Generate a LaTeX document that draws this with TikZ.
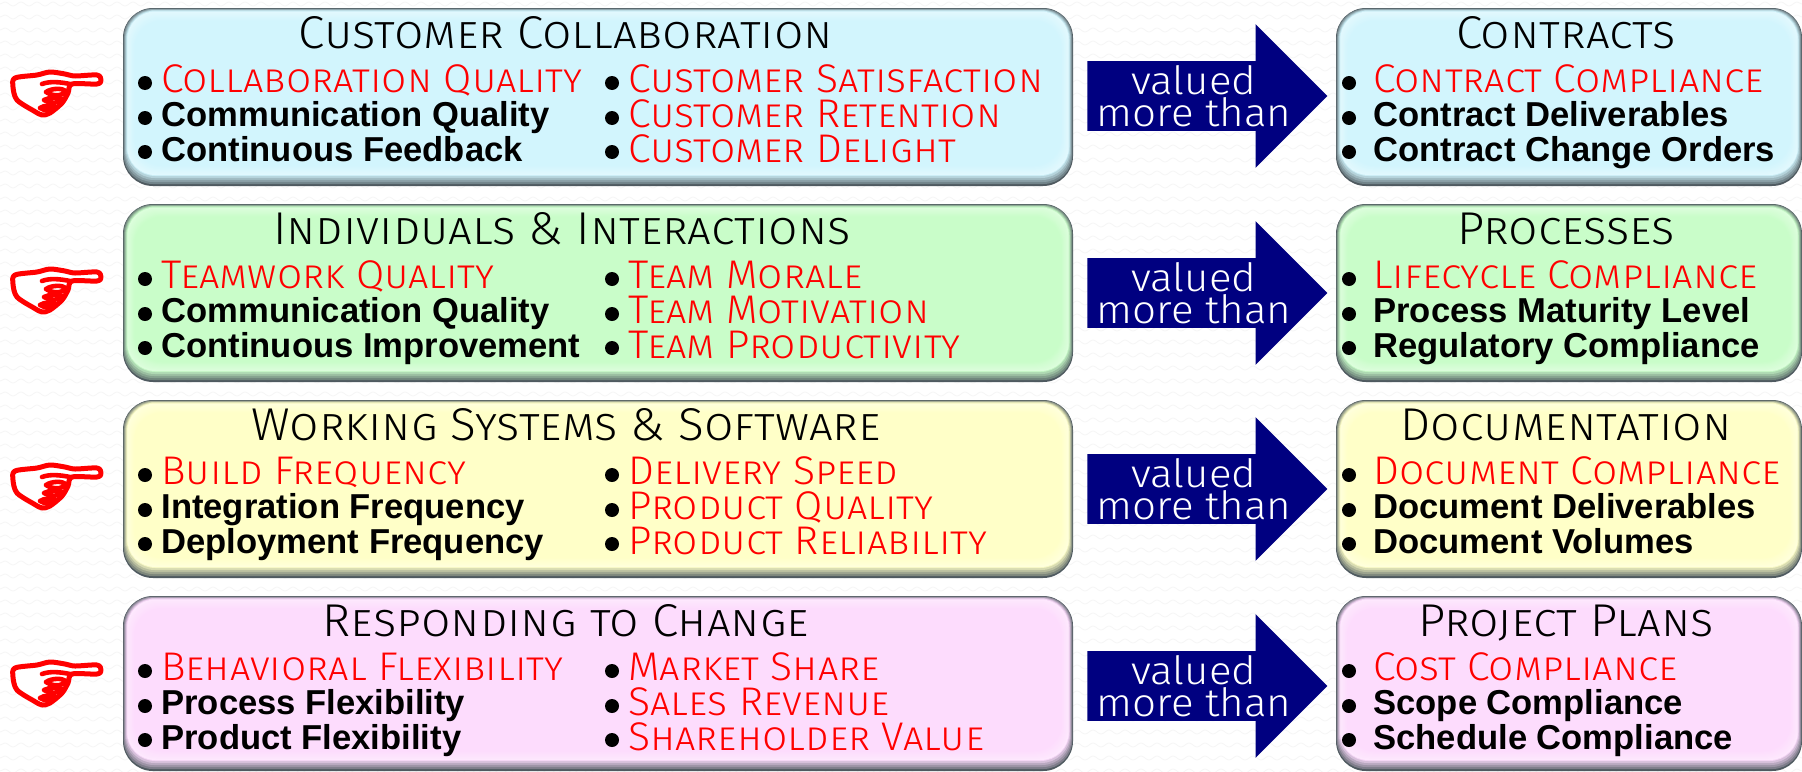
\documentclass[tikz,border=0pt]{standalone}
\usepackage{fontspec}
\usepackage{tikz}
\usetikzlibrary{shapes.arrows, decorations.pathmorphing}
\setmainfont{Liberation Sans}
\newfontfamily\headfont[Letters=SmallCaps, FakeStretch=1.035]{Fira Sans Light}
\newfontfamily\capsfont[Letters=SmallCaps, FakeStretch=1.022]{Fira Sans Light}
\newfontfamily\plainfont[FakeStretch=1.08]{Fira Sans Light}
\definecolor{navyarrow}{HTML}{000080}
\definecolor{bluebox}{HTML}{D2F5FD}
\definecolor{greenbox}{HTML}{C9FDC9}
\definecolor{yellowbox}{HTML}{FFFFC8}
\definecolor{pinkbox}{HTML}{FDDCFD}
\definecolor{edgegray}{HTML}{4F5A60}
\definecolor{wavegray}{HTML}{F6F6F6}
% one bevelled panel: x0, y0, x1, y1, colour
\newcommand{\panel}[5]{
  \fill[edgegray, rounded corners=15pt] (#1,#2) rectangle (#3,#4);
  \foreach \i in {1,...,5}{
    \pgfmathsetmacro{\mixval}{90-17*\i}
    \fill[edgegray!\mixval!#5, rounded corners=14.5pt]
      ({#1+0.7*\i},{#2+0.5*\i}) rectangle ({#3-0.7*\i},{#4-2*\i});
  }
  \foreach \i in {1,...,10}{
    \pgfmathsetmacro{\mixval}{60+4*\i}
    \fill[#5!\mixval!white, rounded corners=14pt]
      ({#1+3.5+0.8*\i},{#2+2.5+1.0*\i}) rectangle ({#3-3.5-0.8*\i},{#4-10-1.0*\i});
  }
}
\begin{document}
\begin{tikzpicture}[
  x=0.5pt, y=-0.5pt,
  head/.style={font=\headfont\fontsize{23}{23}\selectfont, anchor=base, inner sep=0pt},
  redtext/.style={font=\capsfont\fontsize{20}{20}\selectfont, text=red, anchor=base west, inner sep=0pt},
  boldtext/.style={font=\bfseries\fontsize{17.3}{18}\selectfont, anchor=base west, inner sep=0pt},
  bullet/.style={circle, fill=black, inner sep=0pt, minimum size=7pt},
  handline/.style={draw=red, fill=white, line width=2.5pt, line join=round},
  fingerline/.style={draw=red, line width=2.3pt, line cap=round},
  valuedarrow/.style={single arrow, fill=navyarrow, minimum height=120pt, minimum width=71.5pt,
    single arrow head extend=18.5pt, text height=34.5pt, text depth=0pt, text width=0pt, inner sep=0pt, anchor=center},
  valuedtext/.style={font=\plainfont\fontsize{19.5}{16}\selectfont, text=white, align=center, inner sep=0pt}
]
\useasboundingbox (0,0) rectangle (1802,771);
\fill[white] (0,0) rectangle (1802,771);
\foreach \y in {4,17,...,771}
  \draw[wavegray, decorate, decoration={snake, segment length=8pt, amplitude=1pt}] (0,\y) -- (1802,\y);

\panel{123}{8}{1073}{186}{bluebox}
\panel{1336}{8}{1802}{186}{bluebox}
\panel{123}{204}{1073}{382}{greenbox}
\panel{1336}{204}{1802}{382}{greenbox}
\panel{123}{400}{1073}{578}{yellowbox}
\panel{1336}{400}{1802}{578}{yellowbox}
\panel{123}{596}{1073}{771}{pinkbox}
\panel{1336}{596}{1802}{771}{pinkbox}

% arrows and hands
\foreach \y [count=\n] in {96,293,489,686}{
  \node[valuedarrow] (arrow\n) at (1190,\y) {};
  \node[valuedtext] (valued\n) at (1194,\y) {valued\\more than};
  \begin{scope}[shift={(0,\y-96)}]
    \draw[handline] plot[smooth cycle, tension=0.5] coordinates {(101,80) (97,84) (72,84) (68,93) (62,103) (50,113)
      (42,115) (34,111) (17,100) (13,87) (15,78) (37,75) (50,72) (65,74) (75,76) (97,75)};
    \draw[fingerline] (42,84) .. controls (50,81) and (60,82) .. (70,84);
    \draw[fingerline] (46,92) .. controls (52,88) and (62,88) .. (66,91) .. controls (62,97) and (52,96) .. (46,92);
    \draw[fingerline] (44,100) .. controls (50,97) and (58,97) .. (62,99) .. controls (58,104) and (50,104) .. (44,100);
    \draw[fingerline] (40,108) .. controls (45,105) and (50,105) .. (54,107) .. controls (50,111) and (45,111) .. (40,108);
  \end{scope}
}

% bullets
\foreach \y in {0,196,392,588}{
  \foreach \r in {83,118,152}{
    \node[bullet] at (145,\y+\r) {};
    \node[bullet] at (612,\y+\r) {};
    \node[bullet] at (1349,\y+\r) {};
  }
}

% customer collaboration
\node[head] (headA) at (566,48) {Customer Collaboration};
\node[redtext] (itemAa) at (161,92) {Collaboration Quality};
\node[boldtext] (itemAb) at (161,126) {Communication Quality};
\node[boldtext] (itemAc) at (161,161) {Continuous Feedback};
\node[redtext] (itemAd) at (628,92) {Customer Satisfaction};
\node[redtext] (itemAe) at (628,127) {Customer Retention};
\node[redtext] (itemAf) at (628,162) {Customer Delight};
\node[head] (headB) at (1566,48) {Contracts};
\node[redtext] (itemBa) at (1373,92) {Contract Compliance};
\node[boldtext] (itemBb) at (1373,126) {Contract Deliverables};
\node[boldtext] (itemBc) at (1373,161) {Contract Change Orders};

% individuals
\node[head] (headC) at (562,244) {Individuals \& Interactions};
\node[redtext] (itemCa) at (161,288) {Teamwork Quality};
\node[boldtext] (itemCb) at (161,322) {Communication Quality};
\node[boldtext] (itemCc) at (161,357) {Continuous Improvement};
\node[redtext] (itemCd) at (628,288) {Team Morale};
\node[redtext] (itemCe) at (628,323) {Team Motivation};
\node[redtext] (itemCf) at (628,358) {Team Productivity};
\node[head] (headD) at (1566,244) {Processes};
\node[redtext] (itemDa) at (1373,288) {Lifecycle Compliance};
\node[boldtext] (itemDb) at (1373,322) {Process Maturity Level};
\node[boldtext] (itemDc) at (1373,357) {Regulatory Compliance};

% working systems
\node[head] (headE) at (566,440) {Working Systems \& Software};
\node[redtext] (itemEa) at (161,484) {Build Frequency};
\node[boldtext] (itemEb) at (161,518) {Integration Frequency};
\node[boldtext] (itemEc) at (161,553) {Deployment Frequency};
\node[redtext] (itemEd) at (628,484) {Delivery Speed};
\node[redtext] (itemEe) at (628,519) {Product Quality};
\node[redtext] (itemEf) at (628,554) {Product Reliability};
\node[head] (headF) at (1566,440) {Documentation};
\node[redtext] (itemFa) at (1373,484) {Document Compliance};
\node[boldtext] (itemFb) at (1373,518) {Document Deliverables};
\node[boldtext] (itemFc) at (1373,553) {Document Volumes};

% responding to change
\node[head] (headG) at (566,636) {Responding to Change};
\node[redtext] (itemGa) at (161,680) {Behavioral Flexibility};
\node[boldtext] (itemGb) at (161,714) {Process Flexibility};
\node[boldtext] (itemGc) at (161,749) {Product Flexibility};
\node[redtext] (itemGd) at (628,680) {Market Share};
\node[redtext] (itemGe) at (628,715) {Sales Revenue};
\node[redtext] (itemGf) at (628,750) {Shareholder Value};
\node[head] (headH) at (1566,636) {Project Plans};
\node[redtext] (itemHa) at (1373,680) {Cost Compliance};
\node[boldtext] (itemHb) at (1373,714) {Scope Compliance};
\node[boldtext] (itemHc) at (1373,749) {Schedule Compliance};
\end{tikzpicture}
\end{document}
